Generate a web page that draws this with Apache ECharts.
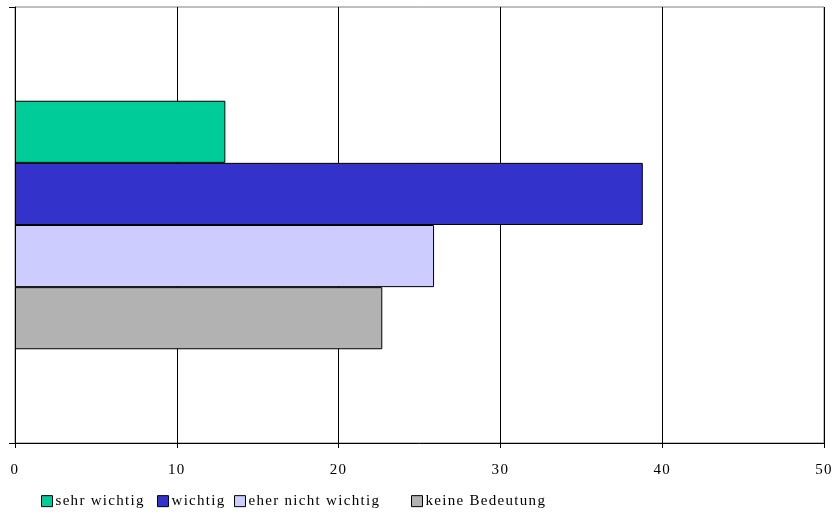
<!DOCTYPE html>
<html>
<head>
<meta charset="utf-8">
<script src="https://cdn.jsdelivr.net/npm/echarts@6/dist/echarts.min.js"></script>
<style>
  html, body { margin: 0; padding: 0; background: #fff; }
  #chart { width: 836px; height: 512px; }
</style>
</head>
<body>
<div id="chart"></div>
<script>
// Serif text set a little wider: every time a canvas font is chosen,
// apply the same letter spacing (also used when text is measured).
(function () {
  const proto = CanvasRenderingContext2D.prototype;
  const desc = Object.getOwnPropertyDescriptor(proto, 'font');
  if (desc && desc.set && 'letterSpacing' in proto) {
    Object.defineProperty(proto, 'font', {
      configurable: true,
      get() { return desc.get.call(this); },
      set(v) { desc.set.call(this, v); this.letterSpacing = '1.3px'; }
    });
  }
})();

// One category, four answer groups shown as horizontal bars (percent)
const categories = [''];
const seriesNames = ['sehr wichtig', 'wichtig', 'eher nicht wichtig', 'keine Bedeutung'];
const seriesValues = [[13.0], [38.8], [25.9], [22.7]];
const seriesColors = ['#00CC99', '#3333CC', '#CCCCFF', '#B2B2B2'];
const xTicks = [0, 10, 20, 30, 40, 50];

// layout: left edge of each legend entry
const legendLefts = [41, 157, 234, 411];

const font = '"Liberation Serif", "Times New Roman", serif';

const chart = echarts.init(document.getElementById('chart'));

chart.setOption({
  animation: false,
  grid: {
    left: 15, right: 12, top: 7, bottom: 69,
    show: true, borderColor: '#808080', borderWidth: 1, backgroundColor: '#fff'
  },
  legend: seriesNames.map((name, i) => ({
    data: [name],
    left: legendLefts[i], top: 493,
    padding: 0,
    icon: 'rect',
    itemWidth: 11, itemHeight: 11,
    itemStyle: { borderColor: '#000', borderWidth: 1 },
    textStyle: { fontFamily: font, fontSize: 15, color: '#000', padding: [0, 0, 0, -2] }
  })),
  xAxis: {
    type: 'value',
    min: xTicks[0], max: xTicks[xTicks.length - 1], interval: 10,
    axisLine: { show: true, lineStyle: { color: '#000', width: 1 } },
    axisTick: { show: true, length: 5, lineStyle: { color: '#000' } },
    axisLabel: { fontFamily: font, fontSize: 15, color: '#000', margin: 19 },
    splitLine: { show: true, lineStyle: { color: '#000', width: 1 } }
  },
  yAxis: {
    type: 'category',
    data: categories,
    inverse: true,
    axisLine: { show: true, onZero: false, lineStyle: { color: '#000', width: 1 } },
    axisTick: { show: true, length: 6, lineStyle: { color: '#000' } },
    axisLabel: { show: false },
    splitLine: { show: false }
  },
  series: seriesNames.map((name, i) => ({
    name: name,
    type: 'bar',
    data: seriesValues[i],
    barGap: '0%',
    barCategoryGap: '43%',
    itemStyle: { color: seriesColors[i], borderColor: '#000', borderWidth: 1 }
  }))
});
</script>
</body>
</html>
